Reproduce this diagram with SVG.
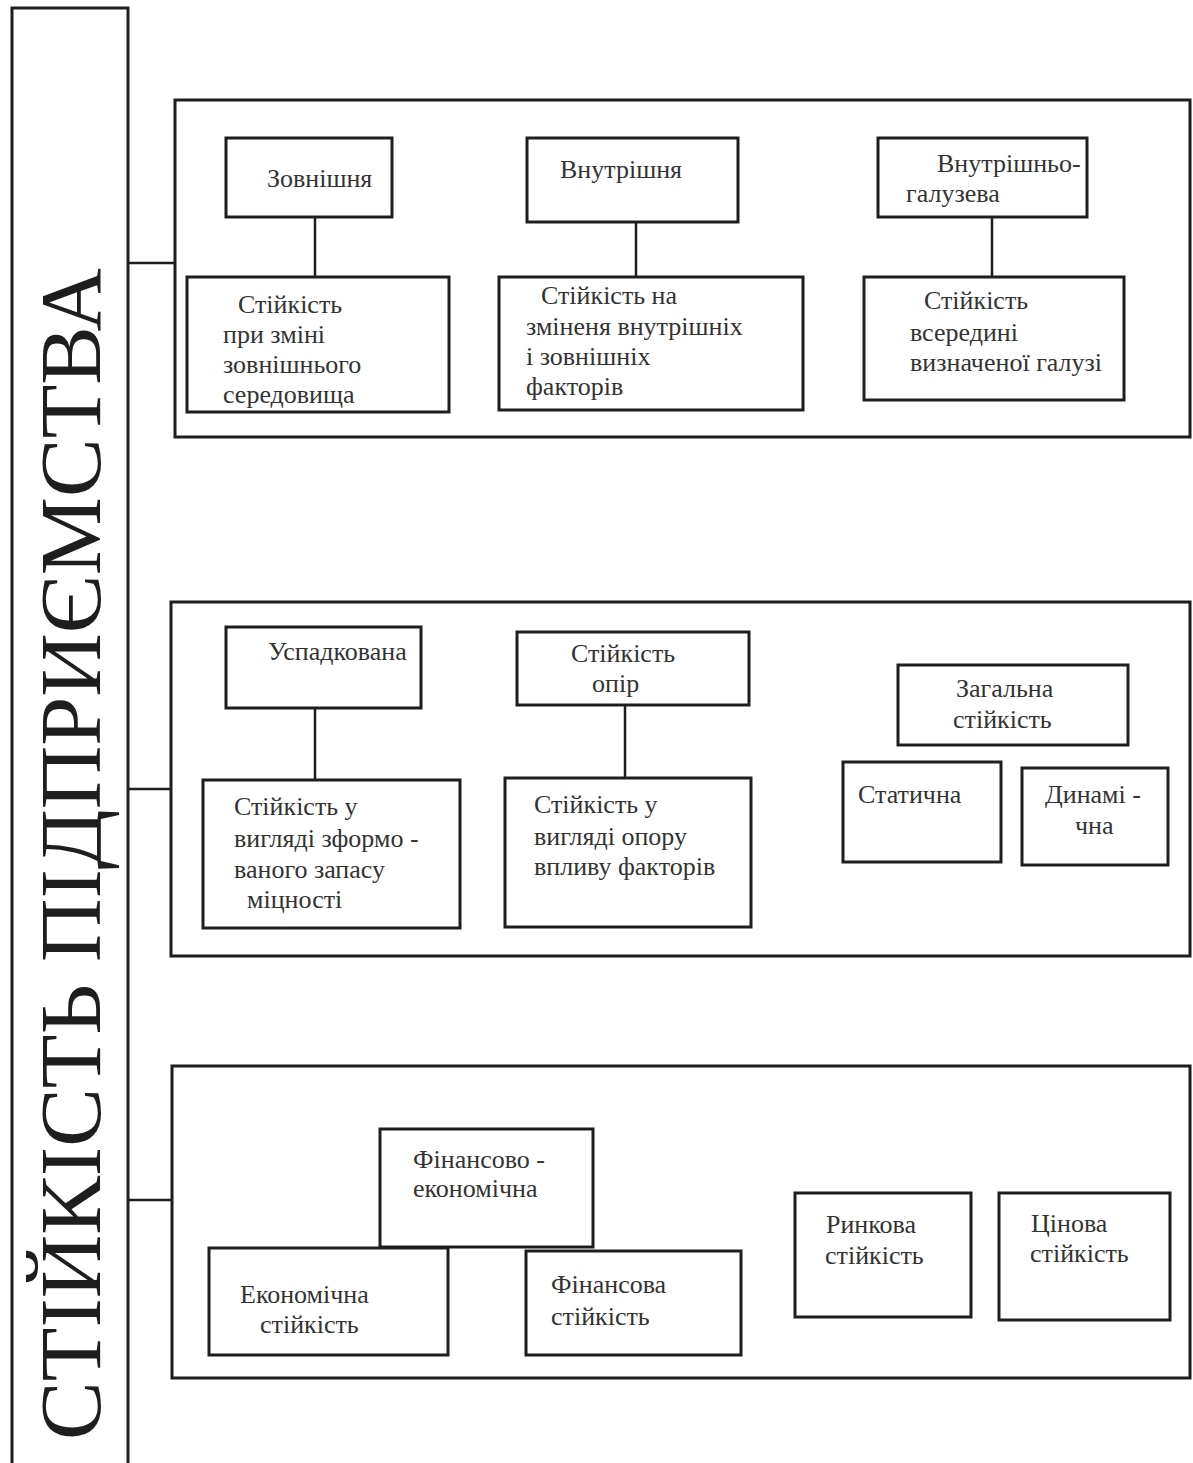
<svg xmlns="http://www.w3.org/2000/svg" width="1193" height="1463" viewBox="0 0 1193 1463">
<style>
.box{fill:none;stroke:#1e1e1e;stroke-width:3}
.sec{fill:none;stroke:#1e1e1e;stroke-width:3}
.ln{stroke:#1e1e1e;stroke-width:2.5;fill:none}
text{font-family:"Liberation Serif","Times New Roman",serif;fill:#333;font-size:26px}
.big{font-size:86px;fill:#1e1e1e}
</style>
<rect width="1193" height="1463" fill="#fff"/>
<g id="root">
<rect class="box" x="12" y="8" width="116" height="1470"/>
<text class="big" transform="translate(100,1440) rotate(-90)" textLength="1172" lengthAdjust="spacingAndGlyphs">СТІЙКІСТЬ ПІДПРИЄМСТВА</text>
</g>
<g id="sections">
<rect id="sec1" class="sec" x="175" y="100" width="1015" height="337"/>
<rect id="sec2" class="sec" x="171" y="602" width="1019" height="354"/>
<rect id="sec3" class="sec" x="172" y="1066" width="1018" height="312"/>
</g>
<g id="connectors">
<line class="ln" x1="128" y1="263" x2="175" y2="263"/>
<line class="ln" x1="128" y1="789" x2="171" y2="789"/>
<line class="ln" x1="128" y1="1200" x2="172" y2="1200"/>
<line class="ln" x1="315" y1="217" x2="315" y2="277"/>
<line class="ln" x1="636" y1="222" x2="636" y2="277"/>
<line class="ln" x1="992" y1="217" x2="992" y2="277"/>
<line class="ln" x1="315" y1="708" x2="315" y2="780"/>
<line class="ln" x1="625" y1="705" x2="625" y2="778"/>
</g>
<g id="n-zovn">
<rect class="box" x="226" y="138" width="166" height="79"/>
<text x="267" y="187">Зовнішня</text>
</g>
<g id="n-zovn-d">
<rect class="box" x="187" y="277" width="262" height="135"/>
<text x="238" y="313">Стійкість</text>
<text x="223" y="343">при зміні</text>
<text x="223" y="373">зовнішнього</text>
<text x="223" y="403">середовища</text>
</g>
<g id="n-vnutr">
<rect class="box" x="527" y="138" width="211" height="84"/>
<text x="560" y="178">Внутрішня</text>
</g>
<g id="n-vnutr-d">
<rect class="box" x="499" y="277" width="304" height="133"/>
<text x="541" y="304">Стійкість на</text>
<text x="526" y="335">зміненя внутрішніх</text>
<text x="526" y="365">і зовнішніх</text>
<text x="526" y="395">факторів</text>
</g>
<g id="n-galuz">
<rect class="box" x="878" y="138" width="209" height="79"/>
<text x="937" y="172">Внутрішньо-</text>
<text x="906" y="202">галузева</text>
</g>
<g id="n-galuz-d">
<rect class="box" x="864" y="277" width="260" height="123"/>
<text x="924" y="309">Стійкість</text>
<text x="910" y="341">всередині</text>
<text x="910" y="371">визначеної галузі</text>
</g>
<g id="n-uspad">
<rect class="box" x="226" y="627" width="195" height="81"/>
<text x="268" y="660">Успадкована</text>
</g>
<g id="n-uspad-d">
<rect class="box" x="203" y="780" width="257" height="148"/>
<text x="234" y="815">Стійкість у</text>
<text x="234" y="847">вигляді зформо -</text>
<text x="234" y="878">ваного запасу</text>
<text x="247" y="908">міцності</text>
</g>
<g id="n-opir">
<rect class="box" x="517" y="632" width="232" height="73"/>
<text x="571" y="662">Стійкість</text>
<text x="592" y="692">опір</text>
</g>
<g id="n-opir-d">
<rect class="box" x="505" y="778" width="246" height="149"/>
<text x="534" y="813">Стійкість у</text>
<text x="534" y="845">вигляді опору</text>
<text x="534" y="875">впливу факторів</text>
</g>
<g id="n-zag">
<rect class="box" x="898" y="665" width="230" height="80"/>
<text x="956" y="697">Загальна</text>
<text x="953" y="728">стійкість</text>
</g>
<g id="n-stat">
<rect class="box" x="843" y="762" width="158" height="100"/>
<text x="858" y="803">Статична</text>
</g>
<g id="n-dyn">
<rect class="box" x="1022" y="768" width="146" height="97"/>
<text x="1045" y="803">Динамі -</text>
<text x="1075" y="834">чна</text>
</g>
<g id="n-finek">
<rect class="box" x="380" y="1129" width="213" height="118"/>
<text x="413" y="1168">Фінансово -</text>
<text x="413" y="1197">економічна</text>
</g>
<g id="n-ek">
<rect class="box" x="209" y="1248" width="239" height="107"/>
<text x="240" y="1303">Економічна</text>
<text x="260" y="1333">стійкість</text>
</g>
<g id="n-fin">
<rect class="box" x="526" y="1251" width="215" height="104"/>
<text x="551" y="1293">Фінансова</text>
<text x="551" y="1325">стійкість</text>
</g>
<g id="n-rynk">
<rect class="box" x="795" y="1193" width="176" height="124"/>
<text x="826" y="1233">Ринкова</text>
<text x="825" y="1264">стійкість</text>
</g>
<g id="n-cin">
<rect class="box" x="999" y="1193" width="171" height="127"/>
<text x="1031" y="1232">Цінова</text>
<text x="1030" y="1262">стійкість</text>
</g>
</svg>
